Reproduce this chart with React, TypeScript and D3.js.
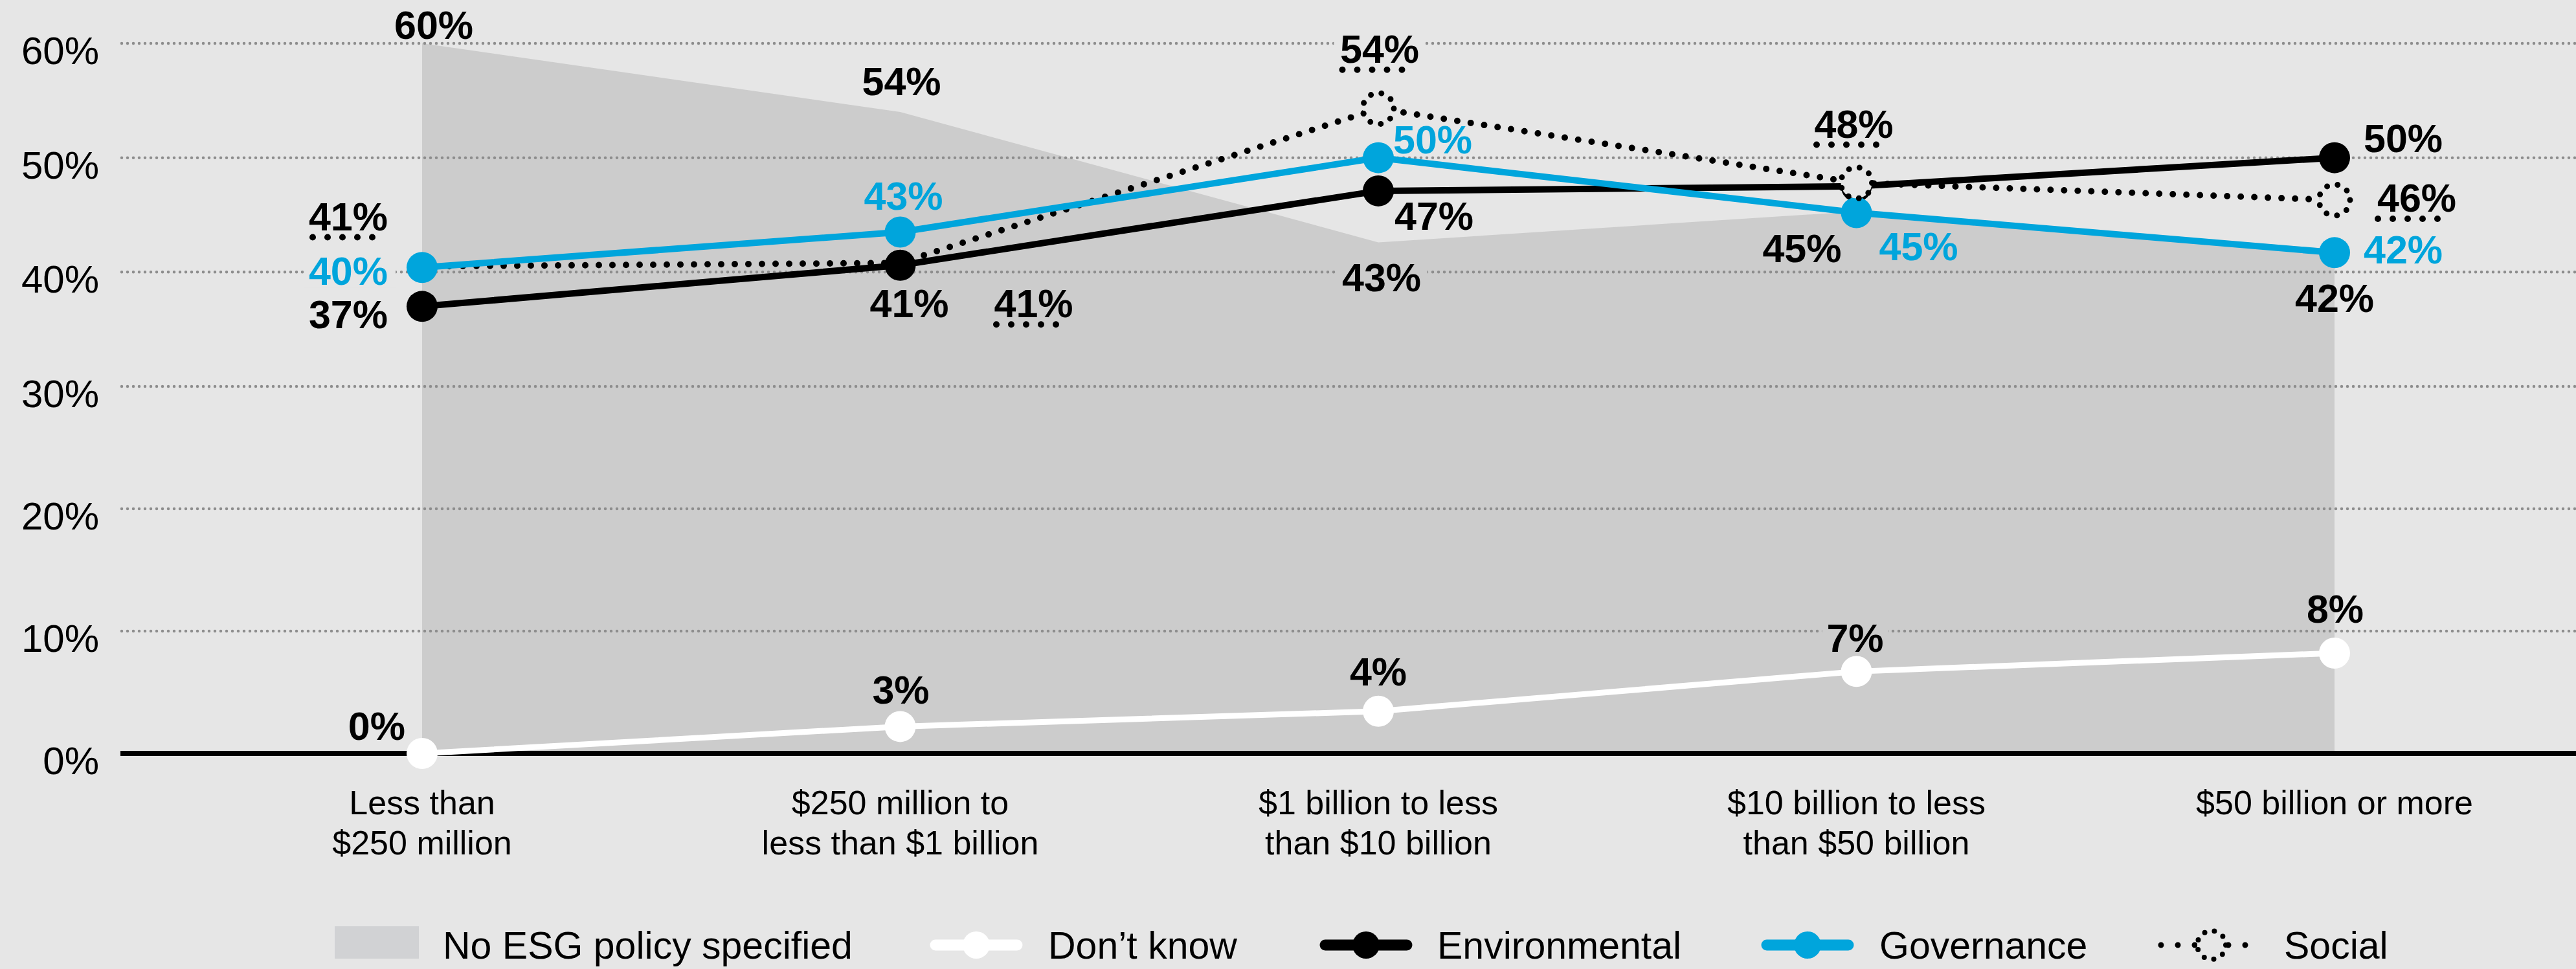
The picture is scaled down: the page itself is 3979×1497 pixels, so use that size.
import React from "react";
import * as d3 from "d3";

// ---------- DATA ----------
const categoryLines: string[][] = [
  ["Less than", "$250 million"],
  ["$250 million to", "less than $1 billion"],
  ["$1 billion to less", "than $10 billion"],
  ["$10 billion to less", "than $50 billion"],
  ["$50 billion or more"],
];
const noPolicy = [60, 54, 42.6, 45.3, 42];
const noPolicyLabels = ["60%", "54%", "43%", "45%", "42%"];
const dontKnow = [0, 2.2, 3.45, 6.7, 8.2];
const dontKnowLabels = ["0%", "3%", "4%", "7%", "8%"];
const environmental = [37, 40.6, 47.1, 47.5, 50];
const environmentalLabels = ["37%", "41%", "47%", "", "50%"];
const governance = [40.4, 43.5, 50, 45.2, 41.7];
const governanceLabels = ["40%", "43%", "50%", "45%", "42%"];
const social = [40.5, 40.8, 54.3, 47.8, 46.3];
const socialLabels = ["41%", "41%", "54%", "48%", "46%"];
const socialMarkerShown = [false, false, true, true, true];
const yTicks = [0, 10, 20, 30, 40, 50, 60];
const legendLabels = ["No ESG policy specified", "Don\u2019t know", "Environmental", "Governance", "Social"];

// ---------- STYLE / LAYOUT ----------
const W = 3979;
const H = 1497;
const BG = "#e6e6e6";
const AREA = "#cccccc";
const BLUE = "#00a5dc";
const GRID = "#8d8d8d";
const FONT = "'Liberation Sans', Arial, Helvetica, sans-serif";

type Pos = { dx: number; dy: number; a: "start" | "middle" | "end" };
const areaLabelPos: Pos[] = [
  { dx: 18, dy: -7, a: "middle" },
  { dx: 2, dy: -26, a: "middle" },
  { dx: 5, dy: 76, a: "middle" },
  { dx: -23, dy: 78, a: "end" },
  { dx: 0, dy: 97, a: "middle" },
];
const dkLabelPos: Pos[] = [
  { dx: -26, dy: -21, a: "end" },
  { dx: 1, dy: -35, a: "middle" },
  { dx: 0, dy: -40, a: "middle" },
  { dx: -2, dy: -30, a: "middle" },
  { dx: 1, dy: -47, a: "middle" },
];
const envLabelPos: Pos[] = [
  { dx: -53, dy: 34, a: "end" },
  { dx: 14, dy: 80, a: "middle" },
  { dx: 25, dy: 60, a: "start" },
  { dx: 0, dy: 0, a: "middle" },
  { dx: 45, dy: -9, a: "start" },
];
const govLabelPos: Pos[] = [
  { dx: -53, dy: 27, a: "end" },
  { dx: 5, dy: -35, a: "middle" },
  { dx: 23, dy: -7, a: "start" },
  { dx: 35, dy: 74, a: "start" },
  { dx: 45, dy: 17, a: "start" },
];
const socLabelPos: Pos[] = [
  { dx: -53, dy: -56, a: "end" },
  { dx: 206, dy: 84, a: "middle" },
  { dx: 2, dy: -71, a: "middle" },
  { dx: -4, dy: -70, a: "middle" },
  { dx: 66, dy: 18, a: "start" },
];

export default function App() {
  const keys = categoryLines.map((l) => l.join(" "));
  const x = d3.scalePoint<string>().domain(keys).range([652, 3606]).padding(0);
  const y = d3.scaleLinear().domain([0, 30, 60]).range([1164, 597, 67]);
  const xi = (i: number) => x(keys[i]) as number;

  const line = d3
    .line<number>()
    .x((_, i) => xi(i))
    .y((d) => y(d));
  const area = d3
    .area<number>()
    .x((_, i) => xi(i))
    .y0(y(0))
    .y1((d) => y(d));
  const areaTop = d3
    .scaleLinear()
    .domain(keys.map((_, i) => xi(i)))
    .range(noPolicy.map((v) => y(v)));

  const LFS = 61;
  const charW = 39;

  type Lab = { text: string; x: number; y: number; a: string; color: string; underline: boolean };
  const labels: Lab[] = [];
  const push = (vals: number[], texts: string[], pos: Pos[], color: string, underline: boolean) => {
    vals.forEach((v, i) => {
      if (!texts[i]) return;
      labels.push({
        text: texts[i],
        x: xi(i) + pos[i].dx,
        y: y(v) + pos[i].dy,
        a: pos[i].a,
        color,
        underline,
      });
    });
  };
  push(noPolicy, noPolicyLabels, areaLabelPos, "#000", false);
  push(dontKnow, dontKnowLabels, dkLabelPos, "#000", false);
  push(environmental, environmentalLabels, envLabelPos, "#000", false);
  push(governance, governanceLabels, govLabelPos, BLUE, false);
  push(social, socialLabels, socLabelPos, "#000", true);

  const gridYs = yTicks.filter((t) => t > 0).map((t) => y(t));
  const x0 = xi(0);
  const x4 = xi(keys.length - 1);

  const bounds = (l: Lab) => {
    const w = l.text.length * charW;
    const left = l.a === "end" ? l.x - w : l.a === "middle" ? l.x - w / 2 : l.x;
    return { left, right: left + w, top: l.y - 46, bottom: l.y };
  };

  const ringR = 24;
  const ringDash = `0 ${((2 * Math.PI * ringR) / 9).toFixed(3)}`;

  // legend layout
  const legendY = 1460;
  const legendTextY = 1481;
  const legendMarkerX = [582, 1508, 2110, 2792, 3416];
  const legendTextX = [684, 1619, 2220, 2903, 3528];

  return (
    <svg
      width={W}
      height={H}
      viewBox={`0 0 ${W} ${H}`}
      style={{ position: "absolute", left: 0, top: 0, display: "block" }}
      fontFamily={FONT}
    >
      <rect x={0} y={0} width={W} height={H} fill={BG} />

      {/* No ESG policy area */}
      <path d={area(noPolicy) || ""} fill={AREA} />

      {/* gridlines */}
      {gridYs.map((gy, i) => (
        <line
          key={"g" + i}
          x1={188}
          x2={W}
          y1={gy}
          y2={gy}
          stroke={GRID}
          strokeWidth={4.5}
          strokeLinecap="round"
          strokeDasharray="0 9"
        />
      ))}
      {/* zero axis */}
      <line x1={186} x2={W} y1={y(0)} y2={y(0)} stroke="#000" strokeWidth={8} />

      {/* y tick labels */}
      {yTicks.map((t) => (
        <text key={"t" + t} x={153} y={y(t) + 32} textAnchor="end" fontSize={60} fill="#000">
          {t}%
        </text>
      ))}

      {/* Don't know */}
      <path d={line(dontKnow) || ""} fill="none" stroke="#fff" strokeWidth={9} />
      {dontKnow.map((v, i) => (
        <circle key={"dk" + i} cx={xi(i)} cy={y(v)} r={24} fill="#fff" />
      ))}

      {/* Social line */}
      <path
        d={line(social) || ""}
        fill="none"
        stroke="#000"
        strokeWidth={10}
        strokeLinecap="round"
        strokeDasharray="0 21"
      />

      {/* Environmental */}
      <path d={line(environmental) || ""} fill="none" stroke="#000" strokeWidth={10} />
      {environmental.map((v, i) => (
        <circle key={"en" + i} cx={xi(i)} cy={y(v)} r={24} fill="#000" />
      ))}

      {/* Governance */}
      <path d={line(governance) || ""} fill="none" stroke={BLUE} strokeWidth={10} />
      {governance.map((v, i) => (
        <circle key={"gv" + i} cx={xi(i)} cy={y(v)} r={24} fill={BLUE} />
      ))}

      {/* Social markers */}
      {social.map((v, i) =>
        socialMarkerShown[i] ? (
          <circle
            key={"so" + i}
            cx={xi(i)}
            cy={y(v)}
            r={ringR}
            fill={BG}
            stroke="#000"
            strokeWidth={9}
            strokeLinecap="round"
            strokeDasharray={ringDash}
          />
        ) : null
      )}

      {/* value labels */}
      {labels.map((l, i) => {
        const b = bounds(l);
        const hit = gridYs.some((gy) => gy >= b.top - 4 && gy <= b.bottom + 4);
        const cx = (b.left + b.right) / 2;
        const cy = (b.top + b.bottom) / 2;
        const inside = cx >= x0 && cx <= x4 && cy > areaTop(cx);
        const ux1 = b.left + 1;
        return (
          <g key={"l" + i}>
            {hit && (
              <rect
                x={b.left - 12}
                y={b.top - 4}
                width={b.right - b.left + 24}
                height={b.bottom - b.top + 8}
                fill={inside ? AREA : BG}
              />
            )}
            <text
              x={l.x}
              y={l.y}
              textAnchor={l.a as any}
              fontSize={LFS}
              fontWeight={700}
              fill={l.color}
            >
              {l.text}
            </text>
            {l.underline && (
              <line
                x1={ux1}
                x2={ux1 + 115}
                y1={l.y + 11}
                y2={l.y + 11}
                stroke="#000"
                strokeWidth={10}
                strokeLinecap="round"
                strokeDasharray="0 23"
              />
            )}
          </g>
        );
      })}

      {/* category labels */}
      {categoryLines.map((lines, i) => (
        <text key={"c" + i} x={xi(i)} y={1258} textAnchor="middle" fontSize={52} fill="#000">
          {lines.map((ln, j) => (
            <tspan key={j} x={xi(i)} dy={j === 0 ? 0 : 62}>
              {ln}
            </tspan>
          ))}
        </text>
      ))}

      {/* legend */}
      <g>
        <rect x={legendMarkerX[0] - 65} y={1431} width={130} height={50} fill="#d1d2d4" />
        {/* Don't know */}
        <line x1={legendMarkerX[1] - 63} x2={legendMarkerX[1] + 63} y1={legendY} y2={legendY} stroke="#fff" strokeWidth={17} strokeLinecap="round" />
        <circle cx={legendMarkerX[1]} cy={legendY} r={21} fill="#fff" />
        {/* Environmental */}
        <line x1={legendMarkerX[2] - 63} x2={legendMarkerX[2] + 63} y1={legendY} y2={legendY} stroke="#000" strokeWidth={17} strokeLinecap="round" />
        <circle cx={legendMarkerX[2]} cy={legendY} r={21} fill="#000" />
        {/* Governance */}
        <line x1={legendMarkerX[3] - 63} x2={legendMarkerX[3] + 63} y1={legendY} y2={legendY} stroke={BLUE} strokeWidth={17} strokeLinecap="round" />
        <circle cx={legendMarkerX[3]} cy={legendY} r={21} fill={BLUE} />
        {/* Social */}
        <line
          x1={legendMarkerX[4] - 78}
          x2={legendMarkerX[4] + 78}
          y1={legendY}
          y2={legendY}
          stroke="#000"
          strokeWidth={9}
          strokeLinecap="round"
          strokeDasharray="0 26"
        />
        <circle cx={legendMarkerX[4]} cy={legendY} r={22} fill={BG} stroke="#000" strokeWidth={8} strokeLinecap="round" strokeDasharray={`0 ${((2 * Math.PI * 22) / 9).toFixed(3)}`} />
        {legendLabels.map((t, i) => (
          <text key={"lg" + i} x={legendTextX[i]} y={legendTextY} fontSize={59} fill="#000">
            {t}
          </text>
        ))}
      </g>
    </svg>
  );
}
